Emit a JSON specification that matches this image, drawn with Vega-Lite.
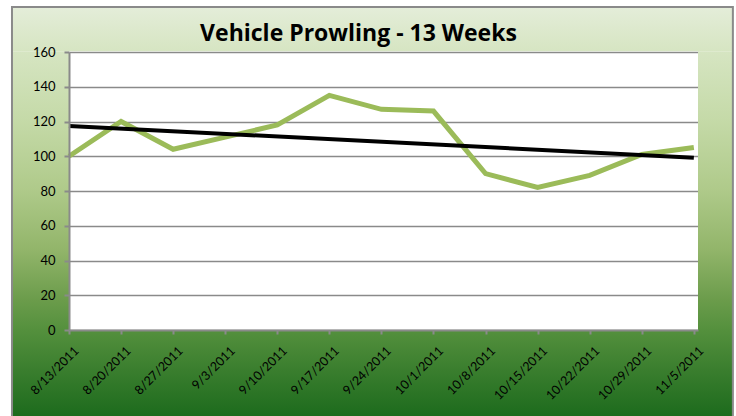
{
  "$schema": "https://vega.github.io/schema/vega-lite/v6.json",
  "width": 629,
  "height": 278,
  "autosize": {"type": "none"},
  "padding": {"left": 69, "top": 52, "right": 38, "bottom": 86},
  "background": "white",
  "view": {"fill": "white", "stroke": null},
  "config": {"font": "Lato"},
  "title": {
    "text": "Vehicle Prowling - 13 Weeks",
    "font": "Open Sans",
    "fontSize": 23,
    "fontWeight": "bold",
    "color": "black",
    "anchor": "middle",
    "frame": "group",
    "dx": -25,
    "offset": -58,
    "baseline": "alphabetic",
    "zindex": 1
  },
  "datasets": {
    "weeks": [
      {"i": 0, "week": "8/13/2011", "count": 100},
      {"i": 1, "week": "8/20/2011", "count": 120},
      {"i": 2, "week": "8/27/2011", "count": 104},
      {"i": 3, "week": "9/3/2011", "count": 111},
      {"i": 4, "week": "9/10/2011", "count": 118},
      {"i": 5, "week": "9/17/2011", "count": 135},
      {"i": 6, "week": "9/24/2011", "count": 127},
      {"i": 7, "week": "10/1/2011", "count": 126},
      {"i": 8, "week": "10/8/2011", "count": 90},
      {"i": 9, "week": "10/15/2011", "count": 82},
      {"i": 10, "week": "10/22/2011", "count": 89},
      {"i": 11, "week": "10/29/2011", "count": 101},
      {"i": 12, "week": "11/5/2011", "count": 105}
    ]
  },
  "data": {"name": "weeks"},
  "layer": [
    {
      "data": {"values": [{}]},
      "mark": {"type": "rect", "clip": false, "fill": {"gradient": "linear", "x1": 0, "y1": 0, "x2": 0, "y2": 1, "stops": [{"offset": 0, "color": "#e4edd9"}, {"offset": 1, "color": "#d6e5c2"}]}},
      "encoding": {
        "x": {"datum": -1.095, "type": "quantitative", "scale": {"domain": [0, 12.08], "nice": false}, "axis": null},
        "x2": {"datum": 12.75},
        "y": {"datum": 160.5, "type": "quantitative", "scale": {"domain": [0, 160], "nice": false}, "axis": null},
        "y2": {"datum": 185.9}
      }
    },
    {
      "data": {"values": [{}]},
      "mark": {"type": "rect", "clip": false, "fill": {"gradient": "linear", "x1": 0, "y1": 0, "x2": 0, "y2": 1, "stops": [{"offset": 0, "color": "#d6e5c2"}, {"offset": 0.245, "color": "#c5daa8"}, {"offset": 0.496, "color": "#afca8a"}, {"offset": 0.712, "color": "#92b56a"}, {"offset": 0.892, "color": "#6b9c4b"}, {"offset": 1, "color": "#54903d"}]}},
      "encoding": {
        "x": {"datum": -1.095, "type": "quantitative", "scale": {"domain": [0, 12.08], "nice": false}, "axis": null},
        "x2": {"datum": 0},
        "y": {"datum": 0, "type": "quantitative", "scale": {"domain": [0, 160], "nice": false}, "axis": null},
        "y2": {"datum": 160.5}
      }
    },
    {
      "data": {"values": [{}]},
      "mark": {"type": "rect", "clip": false, "fill": {"gradient": "linear", "x1": 0, "y1": 0, "x2": 0, "y2": 1, "stops": [{"offset": 0, "color": "#d6e5c2"}, {"offset": 0.245, "color": "#c5daa8"}, {"offset": 0.496, "color": "#afca8a"}, {"offset": 0.712, "color": "#92b56a"}, {"offset": 0.892, "color": "#6b9c4b"}, {"offset": 1, "color": "#54903d"}]}},
      "encoding": {
        "x": {"datum": 12.08, "type": "quantitative", "scale": {"domain": [0, 12.08], "nice": false}, "axis": null},
        "x2": {"datum": 12.75},
        "y": {"datum": 0, "type": "quantitative", "scale": {"domain": [0, 160], "nice": false}, "axis": null},
        "y2": {"datum": 160.5}
      }
    },
    {
      "data": {"values": [{}]},
      "mark": {"type": "rect", "clip": false, "fill": {"gradient": "linear", "x1": 0, "y1": 0, "x2": 0, "y2": 1, "stops": [{"offset": 0, "color": "#54903d"}, {"offset": 0.418, "color": "#3a7e2e"}, {"offset": 0.9, "color": "#1d6b1d"}, {"offset": 1, "color": "#1b6a1b"}]}},
      "encoding": {
        "x": {"datum": -1.095, "type": "quantitative", "scale": {"domain": [0, 12.08], "nice": false}, "axis": null},
        "x2": {"datum": 12.75},
        "y": {"datum": -55, "type": "quantitative", "scale": {"domain": [0, 160], "nice": false}, "axis": null},
        "y2": {"datum": 0}
      }
    },
    {
      "data": {"values": [{}]},
      "mark": {"type": "rect", "clip": false, "filled": false, "stroke": "#8a8a8a", "strokeWidth": 2},
      "encoding": {
        "x": {"datum": -1.095, "type": "quantitative", "scale": {"domain": [0, 12.08], "nice": false}, "axis": null},
        "x2": {"datum": 12.75},
        "y": {"datum": -55, "type": "quantitative", "scale": {"domain": [0, 160], "nice": false}, "axis": null},
        "y2": {"datum": 185.9}
      }
    },
    {
      "mark": {"type": "line", "color": "#9bbb59", "strokeWidth": 5},
      "encoding": {
        "x": {
          "field": "i",
          "type": "quantitative",
          "scale": {"domain": [0, 12.08], "nice": false},
          "axis": {
            "orient": "bottom",
            "values": [0, 1, 2, 3, 4, 5, 6, 7, 8, 9, 10, 11, 12],
            "labelExpr": "['8/13/2011','8/20/2011','8/27/2011','9/3/2011','9/10/2011','9/17/2011','9/24/2011','10/1/2011','10/8/2011','10/15/2011','10/22/2011','10/29/2011','11/5/2011'][datum.value]",
            "labelAngle": -45,
            "labelFont": "Lato",
            "labelFontSize": 12.5,
            "labelColor": "black",
            "labelPadding": 10,
            "labelOffset": 3,
            "labelFlush": false,
            "labelOverlap": false,
            "labelBound": false,
            "tickSize": 4,
            "tickWidth": 2,
            "tickColor": "#8a8a8a",
            "domainColor": "#8a8a8a",
            "domainWidth": 2,
            "grid": false,
            "title": null,
            "zindex": 1
          }
        },
        "y": {
          "field": "count",
          "type": "quantitative",
          "scale": {"domain": [0, 160], "nice": false},
          "axis": {
            "orient": "left",
            "values": [0, 20, 40, 60, 80, 100, 120, 140, 160],
            "labelFont": "Lato",
            "labelFontSize": 13,
            "labelColor": "black",
            "labelPadding": 9,
            "labelFlush": false,
            "labelOverlap": false,
            "labelBound": false,
            "tickSize": 5,
            "tickWidth": 2,
            "tickColor": "#8a8a8a",
            "domainColor": "#8a8a8a",
            "domainWidth": 2,
            "grid": false,
            "title": null,
            "zindex": 1
          }
        }
      }
    },
    {
      "transform": [{"regression": "count", "on": "i"}],
      "mark": {"type": "line", "color": "black", "strokeWidth": 4},
      "encoding": {
        "x": {"field": "i", "type": "quantitative", "scale": {"domain": [0, 12.08], "nice": false}, "axis": null},
        "y": {
          "field": "count",
          "type": "quantitative",
          "scale": {"domain": [0, 160], "nice": false},
          "axis": {
            "orient": "left",
            "values": [0, 20, 40, 60, 80, 100, 120, 140, 160],
            "grid": true,
            "gridColor": "#8a8a8a",
            "gridWidth": 1.5,
            "labels": false,
            "ticks": false,
            "domain": false,
            "title": null,
            "zindex": 0
          }
        }
      }
    }
  ],
  "resolve": {"axis": {"x": "independent", "y": "independent"}}
}
